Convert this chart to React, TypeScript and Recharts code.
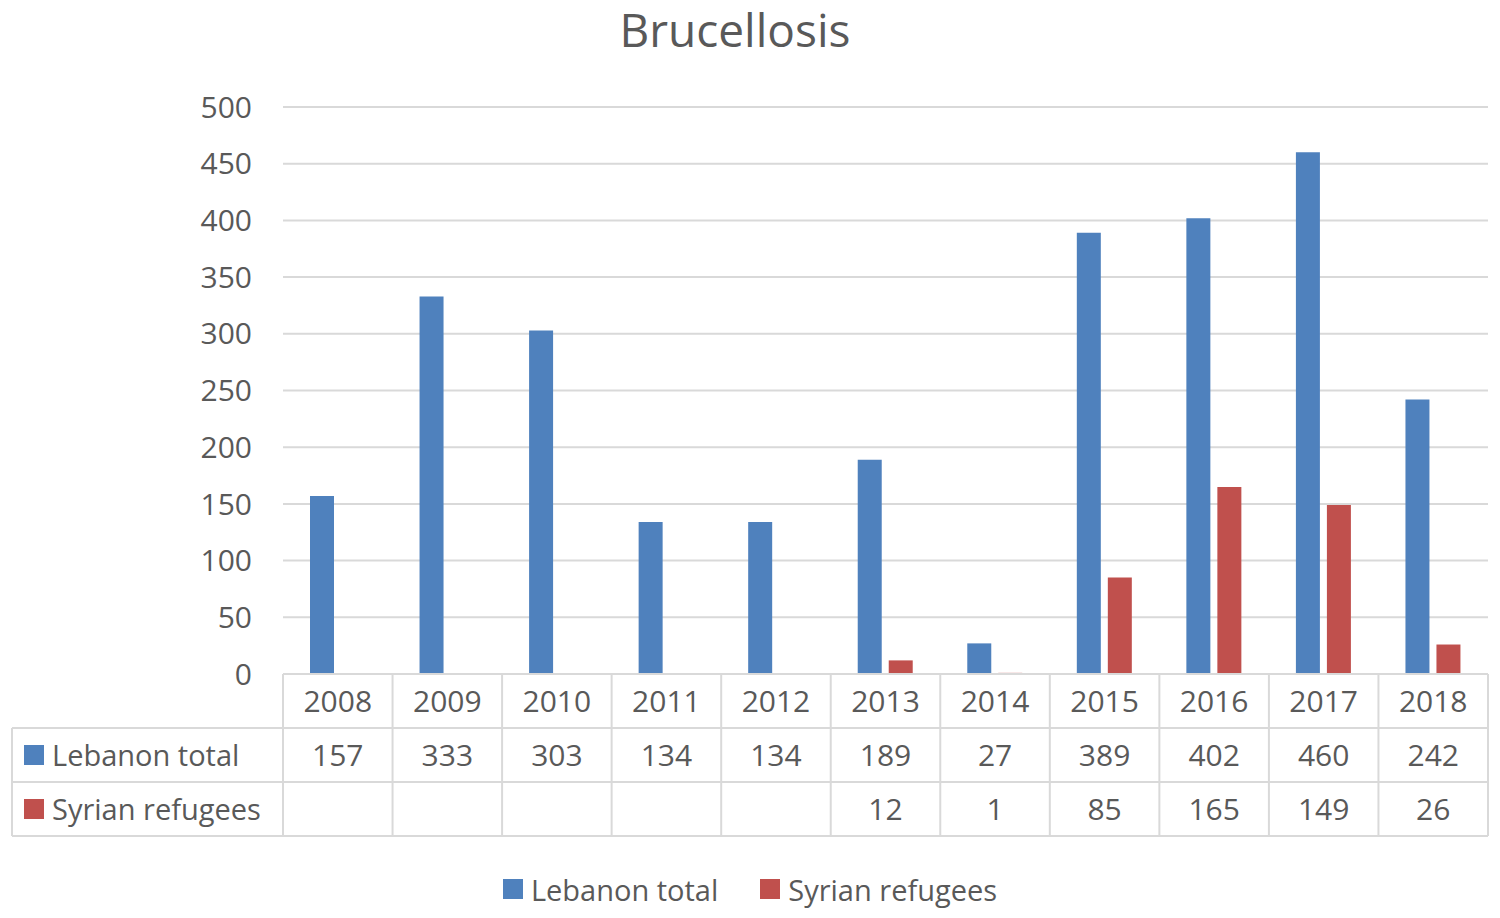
import React from "react"
import { BarChart, Bar, XAxis, YAxis, CartesianGrid, Legend } from "recharts"

const years = ["2008", "2009", "2010", "2011", "2012", "2013", "2014", "2015", "2016", "2017", "2018"]
const lebanonTotal = [157, 333, 303, 134, 134, 189, 27, 389, 402, 460, 242]
const syrianRefugees: (number | null)[] = [null, null, null, null, null, 12, 1, 85, 165, 149, 26]
const yTicks = [0, 50, 100, 150, 200, 250, 300, 350, 400, 450, 500]

const BLUE = "#4f81bd"
const RED = "#c0504d"
const TEXT = "#595959"
const LINE = "#d9d9d9"
const FONT = "'Open Sans', sans-serif"

const W = 1500
const H = 918
const LEFT = 283
const RIGHT = 12
const ROW = 54
const CELL = (W - LEFT - RIGHT) / years.length

const data = years.map((year, i) => ({
  year,
  lebanon: lebanonTotal[i],
  syrian: syrianRefugees[i],
}))

const series = [
  { key: "lebanon", name: "Lebanon total", color: BLUE, values: lebanonTotal },
  { key: "syrian", name: "Syrian refugees", color: RED, values: syrianRefugees },
]

// x axis tick doubles as the data table column
function TableTick(props: any) {
  const { x, y, payload, index } = props
  const left = x - CELL / 2
  const right = x + CELL / 2
  const textProps = { fill: TEXT, fontSize: 30, fontFamily: FONT, textAnchor: "middle" as const, dominantBaseline: "central" as const }
  return (
    <g>
      {index === 0 && (
        <g>
          <line x1={left} y1={y} x2={left} y2={y + ROW * 3} stroke={LINE} strokeWidth={2} />
          <line x1={12} y1={y + ROW} x2={left + CELL * years.length} y2={y + ROW} stroke={LINE} strokeWidth={2} />
          <line x1={12} y1={y + ROW * 2} x2={left + CELL * years.length} y2={y + ROW * 2} stroke={LINE} strokeWidth={2} />
          <line x1={12} y1={y + ROW * 3} x2={left + CELL * years.length} y2={y + ROW * 3} stroke={LINE} strokeWidth={2} />
          <line x1={12} y1={y + ROW} x2={12} y2={y + ROW * 3} stroke={LINE} strokeWidth={2} />
          {series.map((s, r) => (
            <g key={s.key}>
              <rect x={24} y={y + ROW * (r + 1) + ROW / 2 - 10} width={20} height={20} fill={s.color} />
              <text x={52} y={y + ROW * (r + 1) + ROW / 2 - 1} fill={TEXT} fontSize={29} fontFamily={FONT} dominantBaseline="central">
                {s.name}
              </text>
            </g>
          ))}
        </g>
      )}
      <line x1={right} y1={y} x2={right} y2={y + ROW * 3} stroke={LINE} strokeWidth={2} />
      <text x={x} y={y + ROW / 2 - 1} {...textProps}>{payload.value}</text>
      {series.map((s, r) => (
        <text key={s.key} x={x} y={y + ROW * (r + 1) + ROW / 2 - 1} {...textProps}>
          {s.values[index] ?? ""}
        </text>
      ))}
    </g>
  )
}

function LegendBox() {
  return (
    <div style={{ height: 82, boxSizing: "border-box", paddingTop: 24, paddingLeft: 0, display: "flex", justifyContent: "center", alignItems: "center", gap: 42 }}>
      {series.map((s) => (
        <div key={s.key} style={{ display: "flex", alignItems: "center", height: 32 }}>
          <div style={{ width: 20, height: 20, background: s.color, marginRight: 8 }} />
          <span style={{ color: TEXT, fontSize: 29, fontFamily: FONT }}>{s.name}</span>
        </div>
      ))}
    </div>
  )
}

export default function App() {
  return (
    <div style={{ position: "absolute", left: 0, top: 0, width: W, height: H, background: "#fff" }}>
      <div style={{ position: "absolute", top: -2, left: 735 - 300, width: 600, textAlign: "center", color: TEXT, fontFamily: FONT, fontSize: 46 }}>
        Brucellosis
      </div>
      <BarChart
        width={W}
        height={H}
        data={data}
        margin={{ top: 107, right: RIGHT, left: 0, bottom: 0 }}
        barCategoryGap={27}
        barGap={7}
      >
        <CartesianGrid vertical={false} stroke={LINE} strokeWidth={2} />
        <YAxis
          width={LEFT}
          domain={[0, 500]}
          ticks={yTicks}
          axisLine={false}
          tickLine={false}
          tickMargin={25}
          tick={{ fill: TEXT, fontSize: 30, fontFamily: FONT }}
        />
        <XAxis
          dataKey="year"
          height={ROW * 3}
          axisLine={{ stroke: LINE, strokeWidth: 2 }}
          tickLine={false}
          tickSize={0}
          tickMargin={0}
          interval={0}
          tick={<TableTick />}
        />
        <Legend verticalAlign="bottom" content={<LegendBox />} wrapperStyle={{ left: 0, width: W }} />
        <Bar dataKey="lebanon" name="Lebanon total" fill={BLUE} barSize={24} isAnimationActive={false} />
        <Bar dataKey="syrian" name="Syrian refugees" fill={RED} barSize={24} isAnimationActive={false} />
      </BarChart>
    </div>
  )
}
